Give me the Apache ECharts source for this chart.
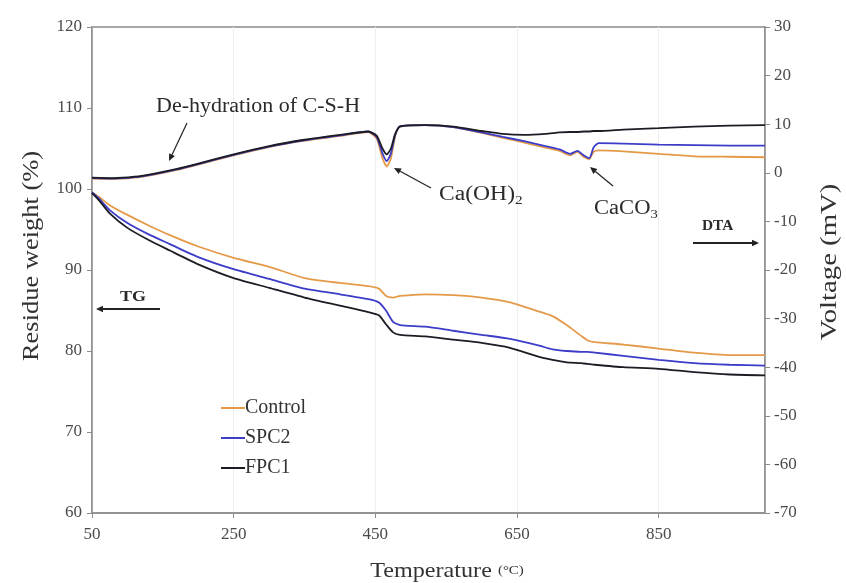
<!DOCTYPE html>
<html>
<head>
<meta charset="utf-8">
<title>TG / DTA</title>
<script src="https://cdn.jsdelivr.net/npm/echarts@6/dist/echarts.min.js"></script>
<style>
  html, body { margin: 0; padding: 0; background: #ffffff; }
  #chart { width: 846px; height: 583px; }
</style>
</head>
<body>
<div id="chart"></div>
<script>
// Temperature grid (°C) for the thermogravimetric (TG) curves
const tempTG = [50, 60, 75, 100, 130, 160, 200, 250, 300, 350, 400, 440, 455, 465, 475, 485,
  520, 560, 600, 640, 680, 700, 720, 740, 750, 760, 800, 850, 900, 950, 1000];
// Residue weight (%)
const tgControl = [99.6, 99.0, 98.0, 96.8, 95.5, 94.3, 92.9, 91.5, 90.4, 89.0, 88.4, 88.0, 87.7, 86.8, 86.6, 86.8,
  87.0, 86.9, 86.6, 86.0, 84.9, 84.3, 83.2, 81.9, 81.3, 81.1, 80.8, 80.3, 79.8, 79.5, 79.5];
const tgSPC2 = [99.6, 98.8, 97.4, 95.8, 94.4, 93.2, 91.6, 90.1, 88.9, 87.7, 87.0, 86.4, 86.0, 85.0, 83.6, 83.2,
  83.0, 82.5, 82.0, 81.5, 80.7, 80.2, 80.0, 79.9, 79.9, 79.8, 79.4, 78.9, 78.5, 78.3, 78.2];
const tgFPC1 = [99.5, 98.6, 97.0, 95.2, 93.7, 92.4, 90.7, 89.0, 87.8, 86.6, 85.6, 84.8, 84.4, 83.3, 82.3, 82.0,
  81.8, 81.4, 81.0, 80.4, 79.3, 78.9, 78.6, 78.5, 78.4, 78.3, 78.0, 77.8, 77.4, 77.1, 77.0];

// Temperature grid (°C) for the differential thermal analysis (DTA) curves
const tempDTA = [50, 80, 110, 140, 170, 200, 250, 300, 350, 400, 440, 452, 460, 466, 472, 478, 485,
  520, 560, 600, 630, 660, 690, 710, 725, 735, 745, 752, 758, 765, 800, 850, 900, 950, 1000];
// Voltage (mV)
const dtaControl = [-1.2, -1.3, -1.0, -0.3, 0.6, 1.7, 3.6, 5.3, 6.6, 7.6, 8.4, 7.0, 3.0, 1.3, 3.0, 7.5, 9.6,
  9.8, 9.4, 8.2, 7.2, 6.2, 5.2, 4.5, 3.6, 4.3, 3.2, 2.8, 4.3, 4.6, 4.4, 3.9, 3.4, 3.3, 3.2];
const dtaSPC2 = [-1.1, -1.2, -0.9, -0.2, 0.7, 1.8, 3.7, 5.4, 6.7, 7.7, 8.5, 7.3, 4.0, 2.4, 4.0, 7.8, 9.6,
  9.8, 9.4, 8.3, 7.4, 6.5, 5.5, 4.8, 3.9, 4.5, 3.5, 3.0, 5.2, 6.1, 6.0, 5.8, 5.7, 5.6, 5.6];
const dtaFPC1 = [-1.0, -1.1, -0.8, -0.1, 0.8, 1.9, 3.8, 5.5, 6.8, 7.8, 8.5, 7.6, 5.0, 3.8, 5.0, 8.0, 9.5,
  9.8, 9.5, 8.6, 8.0, 7.8, 8.0, 8.3, 8.4, 8.4, 8.5, 8.5, 8.6, 8.6, 8.9, 9.2, 9.5, 9.7, 9.8];

const seriesNames = ['Control', 'SPC2', 'FPC1'];
const seriesColors = ['#e49a48', '#3c3cc8', '#1c1c24'];

const leftTicks = { min: 60, max: 120, step: 10 };
const rightTicks = { min: -70, max: 30, step: 10 };
const xTicks = { min: 50, max: 1000, step: 200 };

const FONT = "'Liberation Serif', 'Times New Roman', serif";
const AXIS_COLOR = '#8c8c8c';
const LABEL_COLOR = '#4a4a4a';
const TEXT_COLOR = '#2a2a2a';
const WIDE = 1.18; // horizontal stretch of the annotation lettering

function pairs(xs, ys) { return xs.map((x, i) => [x, ys[i]]); }

const tgSets = [tgControl, tgSPC2, tgFPC1];
const dtaSets = [dtaControl, dtaSPC2, dtaFPC1];

const series = [];
seriesNames.forEach((name, i) => {
  series.push({
    name, type: 'line', yAxisIndex: 0, symbol: 'none', smooth: 0.2,
    lineStyle: { color: seriesColors[i], width: 1.8 }, itemStyle: { color: seriesColors[i] },
    data: pairs(tempTG, tgSets[i]), z: 3 + i
  });
});
seriesNames.forEach((name, i) => {
  series.push({
    name, type: 'line', yAxisIndex: 1, symbol: 'none', smooth: 0.2,
    lineStyle: { color: seriesColors[i], width: 1.8 }, itemStyle: { color: seriesColors[i] },
    data: pairs(tempDTA, dtaSets[i]), z: 3 + i
  });
});

// Text width measurement so subscripts sit right after their base text
const measureCtx = document.createElement('canvas').getContext('2d');
function textWidth(text, font) { measureCtx.font = font; return measureCtx.measureText(text).width; }
function fontOf(size, weight) { return (weight || 'normal') + ' ' + size + 'px ' + FONT; }

// Arrow helper: shaft plus a filled head at (x2, y2)
function arrow(x1, y1, x2, y2, head, width) {
  const a = Math.atan2(y2 - y1, x2 - x1);
  const hw = head * 0.45;
  const bx = x2 - head * Math.cos(a), by = y2 - head * Math.sin(a);
  return [
    { type: 'line', shape: { x1, y1, x2: bx, y2: by }, style: { stroke: '#222', lineWidth: width }, z: 10 },
    { type: 'polygon', shape: { points: [[x2, y2],
        [bx + hw * Math.sin(a), by - hw * Math.cos(a)],
        [bx - hw * Math.sin(a), by + hw * Math.cos(a)]] }, style: { fill: '#222' }, z: 10 }
  ];
}
function label(text, x, y, size, weight, sx) {
  return { type: 'text', x, y, z: 10, scaleX: sx || WIDE,
    style: { text, font: fontOf(size, weight), fill: TEXT_COLOR, textVerticalAlign: 'middle' } };
}
// Chemical formula with a trailing subscript digit
function formula(base, sub, x, y, sx) {
  const w = textWidth(base, fontOf(20)) * sx;
  return [label(base, x, y, 20, 'normal', sx), label(sub, x + w, y + 6, 13, 'normal', sx)];
}
// Axis title drawn along a vertical axis, reading bottom to top
function vTitle(text, cx, cy, size, stretch) {
  return { type: 'text', x: cx, y: cy, rotation: Math.PI / 2, scaleX: stretch, z: 10,
    style: { text, font: fontOf(size), fill: '#333', align: 'center', verticalAlign: 'middle' } };
}

const graphics = [].concat(
  [label('De-hydration of C-S-H', 156, 107, 20, 'normal', 1.1)],
  arrow(187, 123, 169, 161, 7, 1.2),
  formula('Ca(OH)', '2', 439, 195, 1.18),
  arrow(431, 188, 394, 168, 7, 1.2),
  formula('CaCO', '3', 594, 209, 1.13),
  arrow(613, 186, 590, 167, 7, 1.2),
  [label('DTA', 702, 226, 14, 'bold', 1.1)],
  arrow(693, 243, 759, 243, 7, 1.8),
  [label('TG', 120, 297, 15, 'bold', 1.2)],
  arrow(160, 309, 96, 309, 7, 1.8),
  [
    vTitle('Residue weight (%)', 32, 256, 23, 1.15),
    vTitle('Voltage (mV)', 830, 262, 23, 1.25),
    { type: 'text', x: 447, y: 571, scaleX: 1.15, z: 10,
      style: { text: 'Temperature {s|(°C)}', font: fontOf(21), fill: '#333',
        align: 'center', verticalAlign: 'middle',
        rich: { s: { font: fontOf(13), fill: '#333' } } } }
  ]
);

const chart = echarts.init(document.getElementById('chart'), null, { renderer: 'canvas' });
chart.setOption({
  backgroundColor: '#ffffff',
  animation: false,
  textStyle: { fontFamily: FONT },
  grid: { left: 92, right: 81, top: 27, bottom: 70, outerBoundsMode: 'none',
    show: true, borderColor: AXIS_COLOR, borderWidth: 1.5 },
  legend: {
    orient: 'vertical', left: 216, top: 393, itemWidth: 24, itemHeight: 16, itemGap: 10,
    icon: 'path://M0,7L24,7L24,9L0,9Z',
    data: seriesNames,
    textStyle: { fontFamily: FONT, fontSize: 20, color: '#333', padding: [0, 0, 0, -5] }
  },
  xAxis: {
    type: 'value', min: xTicks.min, max: xTicks.max, interval: xTicks.step,
    axisLine: { onZero: false, lineStyle: { color: AXIS_COLOR, width: 1.5 } },
    axisTick: { show: true, length: 5, lineStyle: { color: AXIS_COLOR } },
    axisLabel: { fontFamily: FONT, fontSize: 17, color: LABEL_COLOR, margin: 13, showMaxLabel: false },
    splitLine: { show: true, lineStyle: { color: '#efefef', width: 1 } }
  },
  yAxis: [
    {
      type: 'value', position: 'left', min: leftTicks.min, max: leftTicks.max, interval: leftTicks.step,
      axisLine: { show: true, onZero: false, lineStyle: { color: AXIS_COLOR, width: 1.5 } },
      axisTick: { show: true, length: 5, lineStyle: { color: AXIS_COLOR } },
      axisLabel: { fontFamily: FONT, fontSize: 17, color: LABEL_COLOR, margin: 10 },
      splitLine: { show: false }
    },
    {
      type: 'value', position: 'right', min: rightTicks.min, max: rightTicks.max, interval: rightTicks.step,
      axisLine: { show: true, onZero: false, lineStyle: { color: AXIS_COLOR, width: 1.5 } },
      axisTick: { show: true, length: 5, lineStyle: { color: AXIS_COLOR } },
      axisLabel: { fontFamily: FONT, fontSize: 17, color: LABEL_COLOR, margin: 9 },
      splitLine: { show: false }
    }
  ],
  series,
  graphic: graphics
});
</script>
</body>
</html>
